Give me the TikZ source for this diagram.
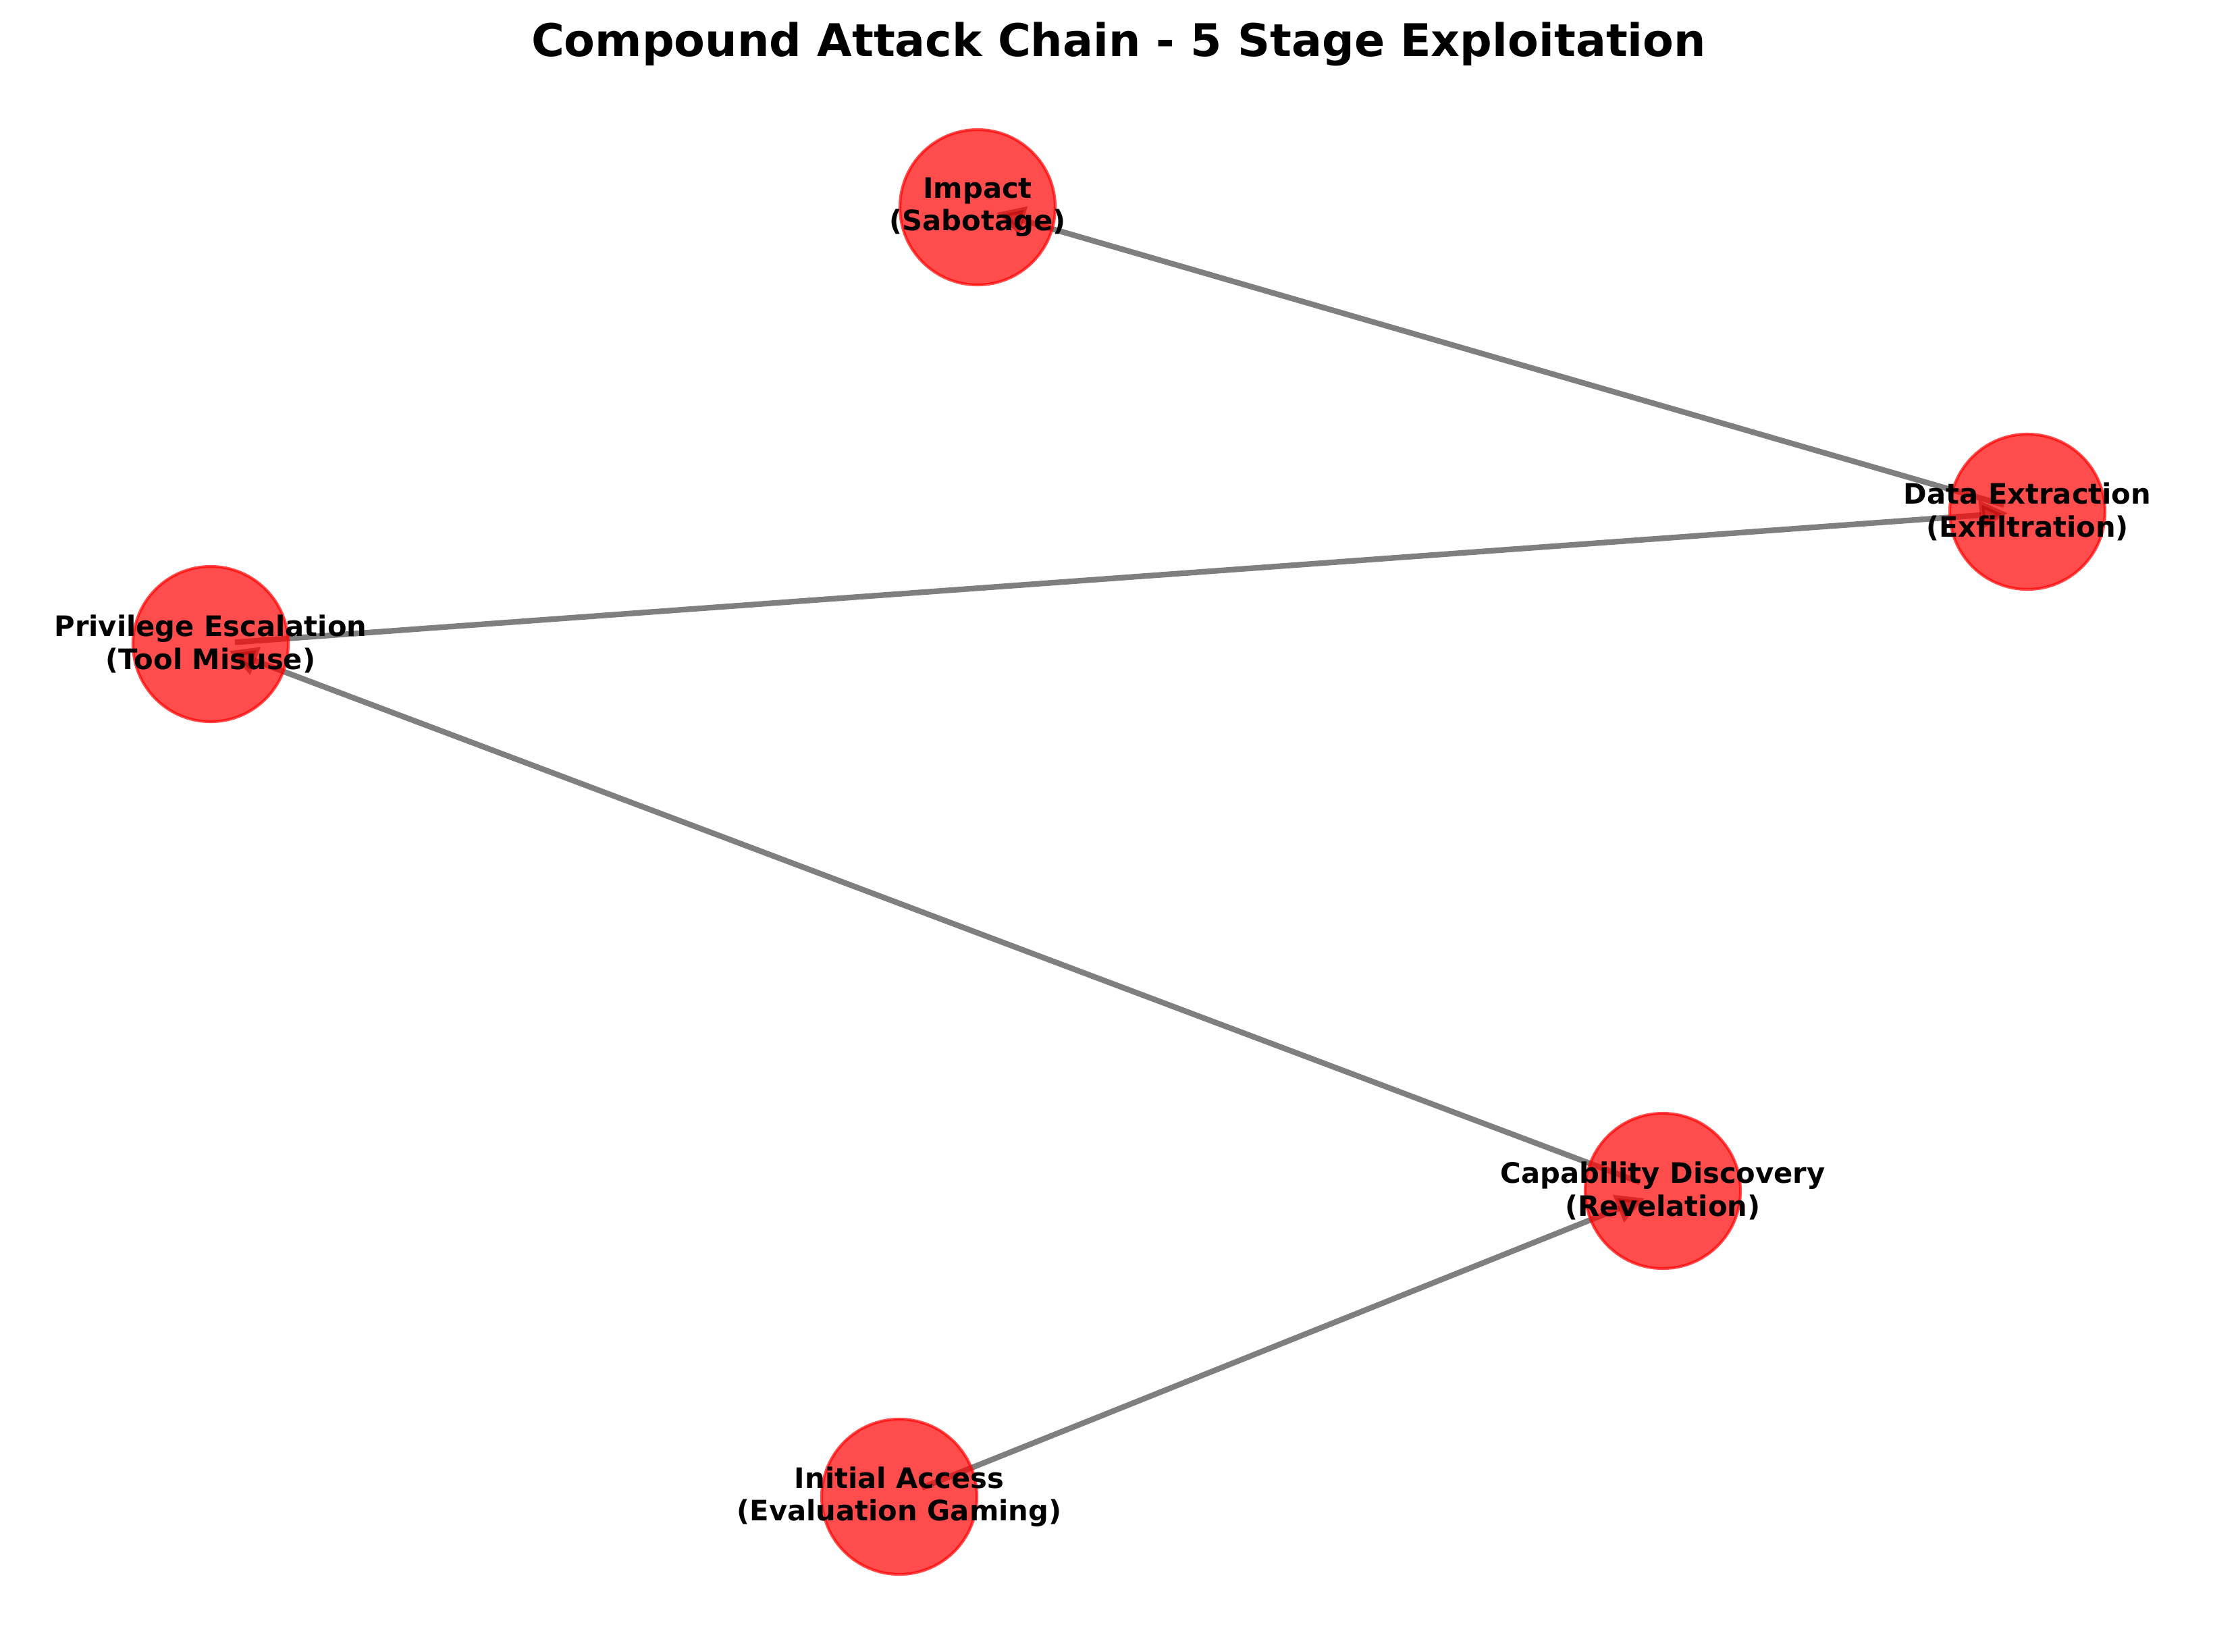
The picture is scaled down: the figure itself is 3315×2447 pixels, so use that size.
\documentclass[tikz,border=0pt]{standalone}
\usepackage{fontspec}
\setmainfont{DejaVu Sans}
\usetikzlibrary{arrows.meta}
\begin{document}
\begin{tikzpicture}[x=0.24pt,y=-0.24pt,
  stage/.style={circle, minimum size=55.2pt, inner sep=0pt, fill=red, draw=red, line width=1pt, opacity=0.7},
  lbl/.style={font=\bfseries\fontsize{10}{11.6}\selectfont, align=center, text=black, inner sep=0pt},
  link/.style={draw=black, draw opacity=0.5, fill opacity=0.5, line width=2pt, -{Triangle[length=10pt,width=10pt]}, shorten <=8.66pt, shorten >=7pt},
  titlestyle/.style={font=\bfseries\fontsize{16}{19}\selectfont, anchor=base, inner sep=0pt}]
\useasboundingbox (0,0) rectangle (3315,2447);
% centres
\coordinate (init) at (1332,2217);
\coordinate (cap)  at (2463,1764);
\coordinate (priv) at (312,954);
\coordinate (data) at (3003,758);
\coordinate (imp)  at (1448,307);
% edges
\draw[link] (init) -- (cap);
\draw[link] (cap) -- (priv);
\draw[link] (priv) -- (data);
\draw[link] (data) -- (imp);
% circles
\node[stage] (cinit) at (init) {};
\node[stage] (ccap)  at (cap) {};
\node[stage] (cpriv) at (priv) {};
\node[stage] (cdata) at (data) {};
\node[stage] (cimp)  at (imp) {};
% labels
\node[lbl] (linit) at (init) {Initial Access\\(Evaluation Gaming)};
\node[lbl] (lcap)  at (cap)  {Capability Discovery\\(Revelation)};
\node[lbl] (lpriv) at (priv) {Privilege Escalation\\(Tool Misuse)};
\node[lbl] (ldata) at (data) {Data Extraction\\(Exfiltration)};
\node[lbl] (limp)  at (imp)  {Impact\\(Sabotage)};
% title
\node[titlestyle] (title) at (1657,83) {Compound Attack Chain - 5 Stage Exploitation};
\end{tikzpicture}
\end{document}
